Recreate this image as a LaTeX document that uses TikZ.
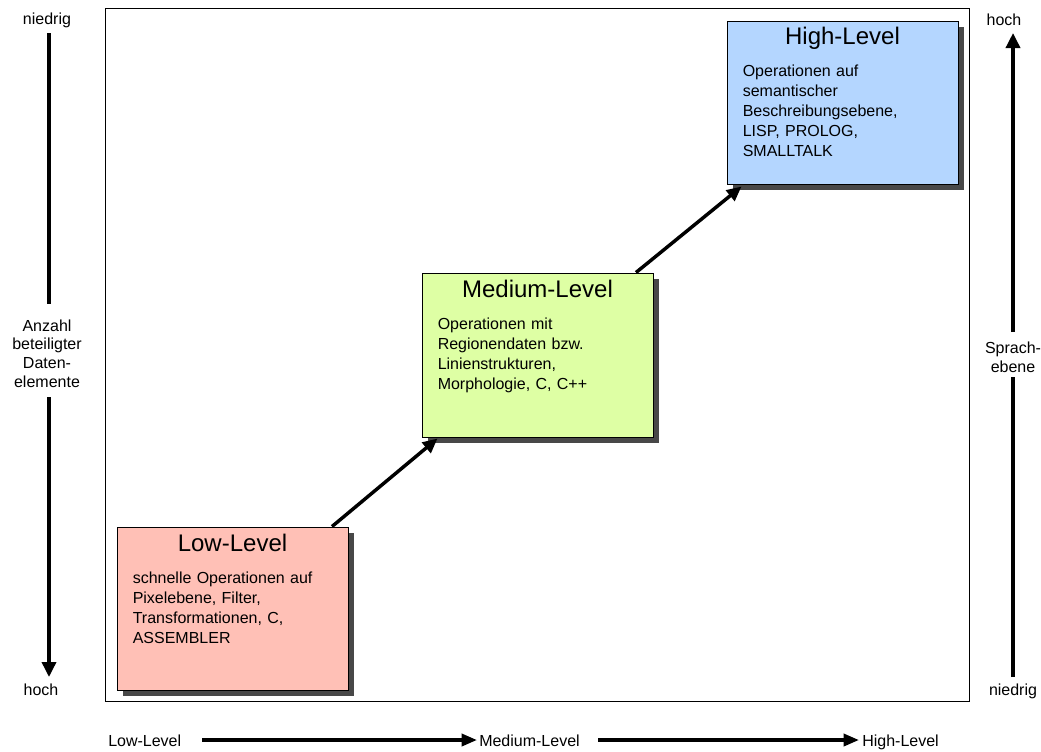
\documentclass[tikz,border=0pt]{standalone}
\usepackage{fontspec}
\setmainfont{Liberation Sans}
\usetikzlibrary{arrows.meta,shadows,calc}
% one drawing unit = one pixel of the 1041 x 751 canvas
\def\px{0.75pt}
\definecolor{lowfill}{RGB}{255,192,182}
\definecolor{medfill}{RGB}{222,255,164}
\definecolor{highfill}{RGB}{180,214,255}
\definecolor{shadowgray}{RGB}{72,72,72}
\begin{document}
\begin{tikzpicture}[x=0.75pt,y=-0.75pt,
  levelbox/.style={draw=black, line width=0.75pt, inner sep=0pt,
    minimum width=231*\px, minimum height=163*\px,
    drop shadow={shadow xshift=5.5*\px, shadow yshift=-5.5*\px, fill=shadowgray, opacity=1}},
  boxtitle/.style={anchor=base, inner sep=0pt, font=\fontsize{18}{22}\selectfont},
  boxbody/.style={anchor=base west, inner sep=0pt, text width=210*\px, align=left,
    font=\fontsize{12}{15}\selectfont},
  side/.style={inner sep=0pt, align=center, font=\fontsize{12}{13.9}\selectfont},
  axislabel/.style={inner sep=0pt, font=\fontsize{12}{14}\selectfont,
    text height=9pt, text depth=0pt},
  flow/.style={line width=2.6pt, -{Triangle[length=11pt, width=10pt]}},
  sideaxis/.style={line width=2.6pt},
  sidetip/.style={-{Triangle[length=11.25pt, width=10.5pt]}},
  bottomaxis/.style={line width=2.6pt, -{Triangle[length=11.5pt, width=9pt]}},
]
\useasboundingbox (0,0) rectangle (1041,751);

% outer frame
\node[draw=black, line width=0.75pt, inner sep=0pt,
      minimum width=864.5*\px, minimum height=693.5*\px] (frame) at (537.25,354.75) {};

% the three processing levels
\node[levelbox, fill=lowfill]  (low)  at (232.5,608.5) {};
\node[levelbox, fill=medfill, minimum height=164*\px] (med) at (537.5,355) {};
\node[levelbox, fill=highfill] (high) at (842.5,102.5) {};

\node[boxtitle] (lowT)  at ($(low.north)+(0,25)$)  {Low-Level};
\node[boxtitle] (medT)  at ($(med.north)+(0,25)$)  {Medium-Level};
\node[boxtitle] (highT) at ($(high.north)+(0,24)$) {High-Level};

\node[boxbody] (lowB) at ($(low.north west)+(16,57)$)
  {schnelle Operationen auf\\Pixelebene, Filter,\\Transformationen, C,\\ASSEMBLER};
\node[boxbody] (medB) at ($(med.north west)+(16,57)$)
  {Operationen mit\\Regionendaten bzw.\\Linienstrukturen,\\Morphologie, C, C++};
\node[boxbody] (highB) at ($(high.north west)+(16,56)$)
  {Operationen auf\\semantischer\\Beschreibungsebene,\\LISP, PROLOG,\\SMALLTALK};

% transitions between the levels
\draw[flow] ($(low.north)+(99.5,0)$) -- ($(med.south west)+(16,1)$);
\draw[flow] ($(med.north)+(98.5,0)$) -- ($(high.south west)+(15,2)$);

% left axis: number of data elements involved
\node[side, anchor=base] (lN) at (47,24) {niedrig};
\node[side, anchor=base] (lH) at (41,695) {hoch};
\node[side] (lMid) at (47,353.5) {Anzahl\\beteiligter\\Daten-\\elemente};
\coordinate (lTop) at (49,33);
\coordinate (lGapA) at (49,304);
\coordinate (lGapB) at (49,397);
\coordinate (lBot) at (49,677);
\draw[sideaxis] (lTop) -- (lGapA);
\draw[sideaxis, sidetip] (lGapB) -- (lBot);

% right axis: language level
\node[side, anchor=base] (rH) at (1004,25) {hoch};
\node[side, anchor=base] (rN) at (1013,695) {niedrig};
\node[side] (rMid) at (1013,357.5) {Sprach-\\ebene};
\coordinate (rTop) at (1013,33);
\coordinate (rGapA) at (1013,332);
\coordinate (rGapB) at (1013,377);
\coordinate (rBot) at (1013,677);
\draw[sideaxis] (rBot) -- (rGapB);
\draw[sideaxis, sidetip] (rGapA) -- (rTop);

% bottom axis
\node[axislabel, anchor=base west] (bL) at (108,746) {Low-Level};
\node[axislabel, anchor=base west] (bM) at (479,746) {Medium-Level};
\node[axislabel, anchor=base west] (bH) at (862,746) {High-Level};
\draw[bottomaxis, shorten <=21*\px, shorten >=2*\px] (bL.east) -- (bM.west);
\draw[bottomaxis, shorten <=18*\px, shorten >=3*\px] (bM.east) -- (bH.west);
\end{tikzpicture}
\end{document}
